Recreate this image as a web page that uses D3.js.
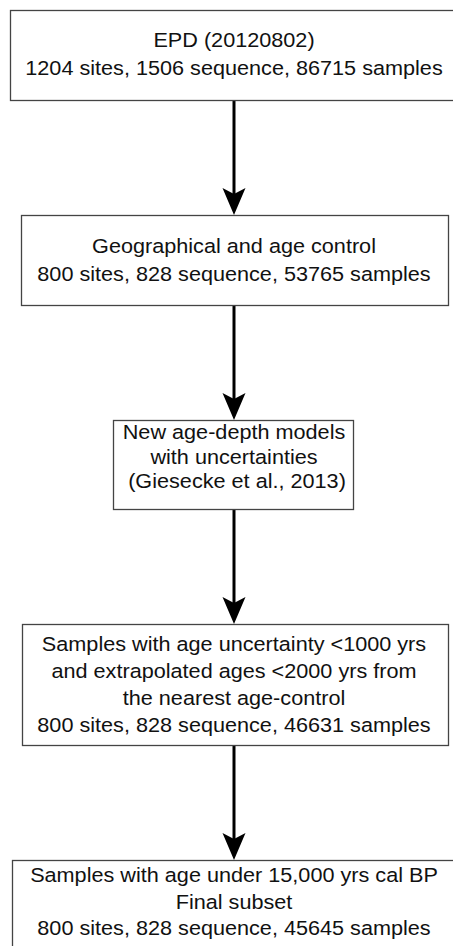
<!DOCTYPE html>
<html>
<head>
<meta charset="utf-8">
<script src="https://cdn.jsdelivr.net/npm/d3@7"></script>
<style>
  html, body { margin: 0; padding: 0; background: #fff; }
  svg { display: block; }
</style>
</head>
<body>
<svg id="chart" width="453" height="946"></svg>
<script>
// ---- data ----
const stageTitles = [
  ["EPD (20120802)"],
  ["Geographical and age control"],
  ["New age-depth models", "with uncertainties", " (Giesecke et al., 2013)"],
  ["Samples with age uncertainty <1000 yrs", "and extrapolated ages <2000 yrs from", "the nearest age-control"],
  ["Samples with age under 15,000 yrs cal BP", "Final subset"]
];
const stageSites     = [1204, 800, null, 800, 800];
const stageSequences = [1506, 828, null, 828, 828];
const stageSamples   = [86715, 53765, null, 46631, 45645];

// ---- layout (positions only) ----
const boxes = [
  {x0: 10,  x1: 462, y0: 10,  y1: 100, base: 47,  step: 28},
  {x0: 21,  x1: 448, y0: 215, y1: 305, base: 253, step: 28},
  {x0: 113, x1: 353, y0: 420, y1: 509, base: 439, step: 24.5},
  {x0: 22,  x1: 448, y0: 624, y1: 745, base: 651, step: 27},
  {x0: 12,  x1: 462, y0: 860, y1: 960, base: 882, step: 26.5}
];
const arrowX = 234;
const fontSize = 19.5, stretch = 1.11;

const svg = d3.select("#chart");

const lines = stageTitles.map((t, i) => {
  const l = t.slice();
  if (stageSites[i] != null)
    l.push(`${stageSites[i]} sites, ${stageSequences[i]} sequence, ${stageSamples[i]} samples`);
  return l;
});

// arrows
const arrows = d3.range(boxes.length - 1).map(i => ({y0: boxes[i].y1, y1: boxes[i + 1].y0}));
const ag = svg.append("g").selectAll("g").data(arrows).join("g");
ag.append("line")
  .attr("x1", arrowX).attr("x2", arrowX)
  .attr("y1", d => d.y0).attr("y2", d => d.y1 - 20)
  .attr("stroke", "#000").attr("stroke-width", 3);
ag.append("path")
  .attr("d", d => `M${arrowX},${d.y1} L${arrowX - 11.5},${d.y1 - 27} L${arrowX},${d.y1 - 21} L${arrowX + 11.5},${d.y1 - 27} Z`)
  .attr("fill", "#000");

// boxes
const bg = svg.append("g").selectAll("g").data(boxes).join("g");
bg.append("rect")
  .attr("x", d => d.x0 + 0.5).attr("y", d => d.y0 + 0.5)
  .attr("width", d => d.x1 - d.x0).attr("height", d => d.y1 - d.y0)
  .attr("fill", "#fff").attr("stroke", "#444").attr("stroke-width", 1.3);

bg.each(function(d, i) {
  const cx = 234;
  d3.select(this).selectAll("text").data(lines[i]).join("text")
    .attr("transform", (s, j) => `translate(${cx},${d.base + j * d.step}) scale(${stretch},1)`)
    .attr("text-anchor", "middle")
    .attr("font-family", "'Liberation Sans', Arial, Helvetica, sans-serif")
    .attr("font-size", fontSize)
    .attr("fill", "#111")
    .attr("xml:space", "preserve")
    .style("white-space", "pre")
    .text(s => s);
});
</script>
</body>
</html>
